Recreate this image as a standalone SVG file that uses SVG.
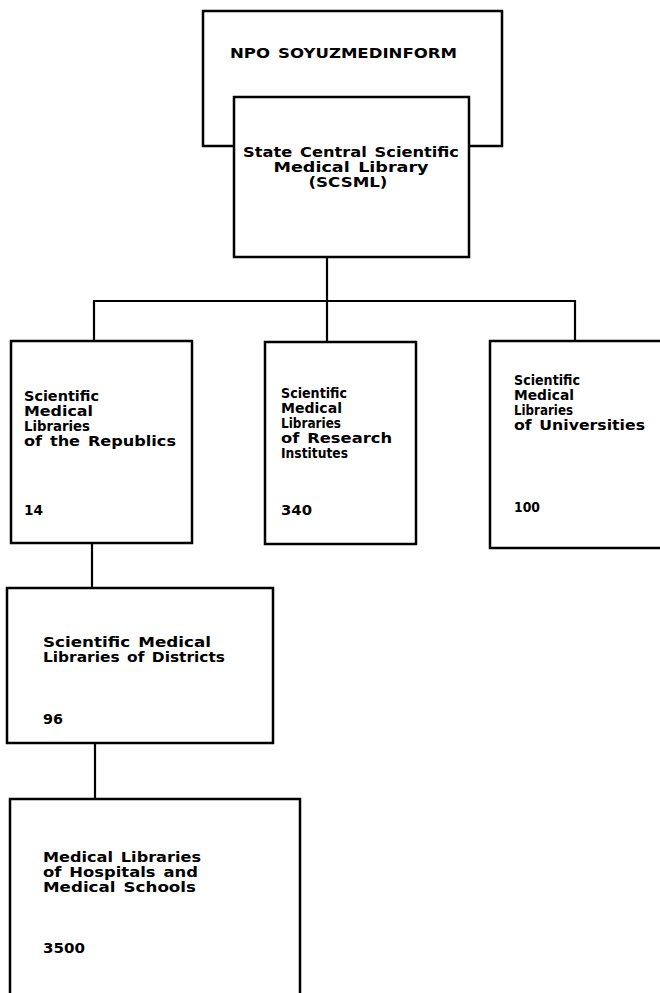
<svg xmlns="http://www.w3.org/2000/svg" width="660" height="993" viewBox="0 0 660 993">
<style>
.box{fill:#fff;stroke:#000;stroke-width:2.5}
.ln{fill:none;stroke:#000;stroke-width:2.2}
text{font-family:"DejaVu Sans","Liberation Sans",sans-serif;font-weight:bold;font-size:14.5px;word-spacing:2px;fill:#000}
</style>
<rect width="660" height="993" fill="#fff"/>
<g id="npo">
<rect class="box" x="203" y="11" width="299" height="135"/>
<text x="230" y="58" textLength="227" lengthAdjust="spacingAndGlyphs">NPO SOYUZMEDINFORM</text>
</g>
<g id="scsml">
<rect class="box" x="234" y="97" width="235" height="160"/>
<text x="351" y="157" text-anchor="middle" textLength="216" lengthAdjust="spacingAndGlyphs">State Central Scientific</text>
<text x="351" y="172" text-anchor="middle" textLength="155" lengthAdjust="spacingAndGlyphs">Medical Library</text>
<text x="348" y="187" text-anchor="middle" textLength="79" lengthAdjust="spacingAndGlyphs">(SCSML)</text>
</g>
<g id="connectors">
<path class="ln" d="M327 257V301M94 343V301H575V341M327 301V342M92 543V588M95 743V799"/>
</g>
<g id="republics">
<rect class="box" x="11" y="341" width="181" height="202"/>
<text x="24" y="401" textLength="75" lengthAdjust="spacingAndGlyphs">Scientific</text>
<text x="24" y="416" textLength="69" lengthAdjust="spacingAndGlyphs">Medical</text>
<text x="24" y="431" textLength="66" lengthAdjust="spacingAndGlyphs">Libraries</text>
<text x="24" y="446" textLength="152" lengthAdjust="spacingAndGlyphs">of the Republics</text>
<text x="24" y="515" textLength="19" lengthAdjust="spacingAndGlyphs">14</text>
</g>
<g id="research">
<rect class="box" x="265" y="342" width="151" height="202"/>
<text x="281" y="398" textLength="66" lengthAdjust="spacingAndGlyphs">Scientific</text>
<text x="281" y="413" textLength="61" lengthAdjust="spacingAndGlyphs">Medical</text>
<text x="281" y="428" textLength="60" lengthAdjust="spacingAndGlyphs">Libraries</text>
<text x="281" y="443" textLength="111" lengthAdjust="spacingAndGlyphs">of Research</text>
<text x="281" y="458" textLength="67" lengthAdjust="spacingAndGlyphs">Institutes</text>
<text x="281" y="515" textLength="31" lengthAdjust="spacingAndGlyphs">340</text>
</g>
<g id="universities">
<rect class="box" x="490" y="341" width="180" height="207"/>
<text x="514" y="385" textLength="66" lengthAdjust="spacingAndGlyphs">Scientific</text>
<text x="514" y="400" textLength="60" lengthAdjust="spacingAndGlyphs">Medical</text>
<text x="514" y="415" textLength="59" lengthAdjust="spacingAndGlyphs">Libraries</text>
<text x="514" y="430" textLength="131" lengthAdjust="spacingAndGlyphs">of Universities</text>
<text x="514" y="512" textLength="26" lengthAdjust="spacingAndGlyphs">100</text>
</g>
<g id="districts">
<rect class="box" x="7" y="588" width="266" height="155"/>
<text x="43" y="647" textLength="168" lengthAdjust="spacingAndGlyphs">Scientific Medical</text>
<text x="43" y="662" textLength="182" lengthAdjust="spacingAndGlyphs">Libraries of Districts</text>
<text x="43" y="724" textLength="20" lengthAdjust="spacingAndGlyphs">96</text>
</g>
<g id="hospitals">
<rect class="box" x="10" y="799" width="290" height="210"/>
<text x="43" y="862" textLength="158" lengthAdjust="spacingAndGlyphs">Medical Libraries</text>
<text x="43" y="877" textLength="155" lengthAdjust="spacingAndGlyphs">of Hospitals and</text>
<text x="43" y="892" textLength="153" lengthAdjust="spacingAndGlyphs">Medical Schools</text>
<text x="43" y="953" textLength="42" lengthAdjust="spacingAndGlyphs">3500</text>
</g>
</svg>
